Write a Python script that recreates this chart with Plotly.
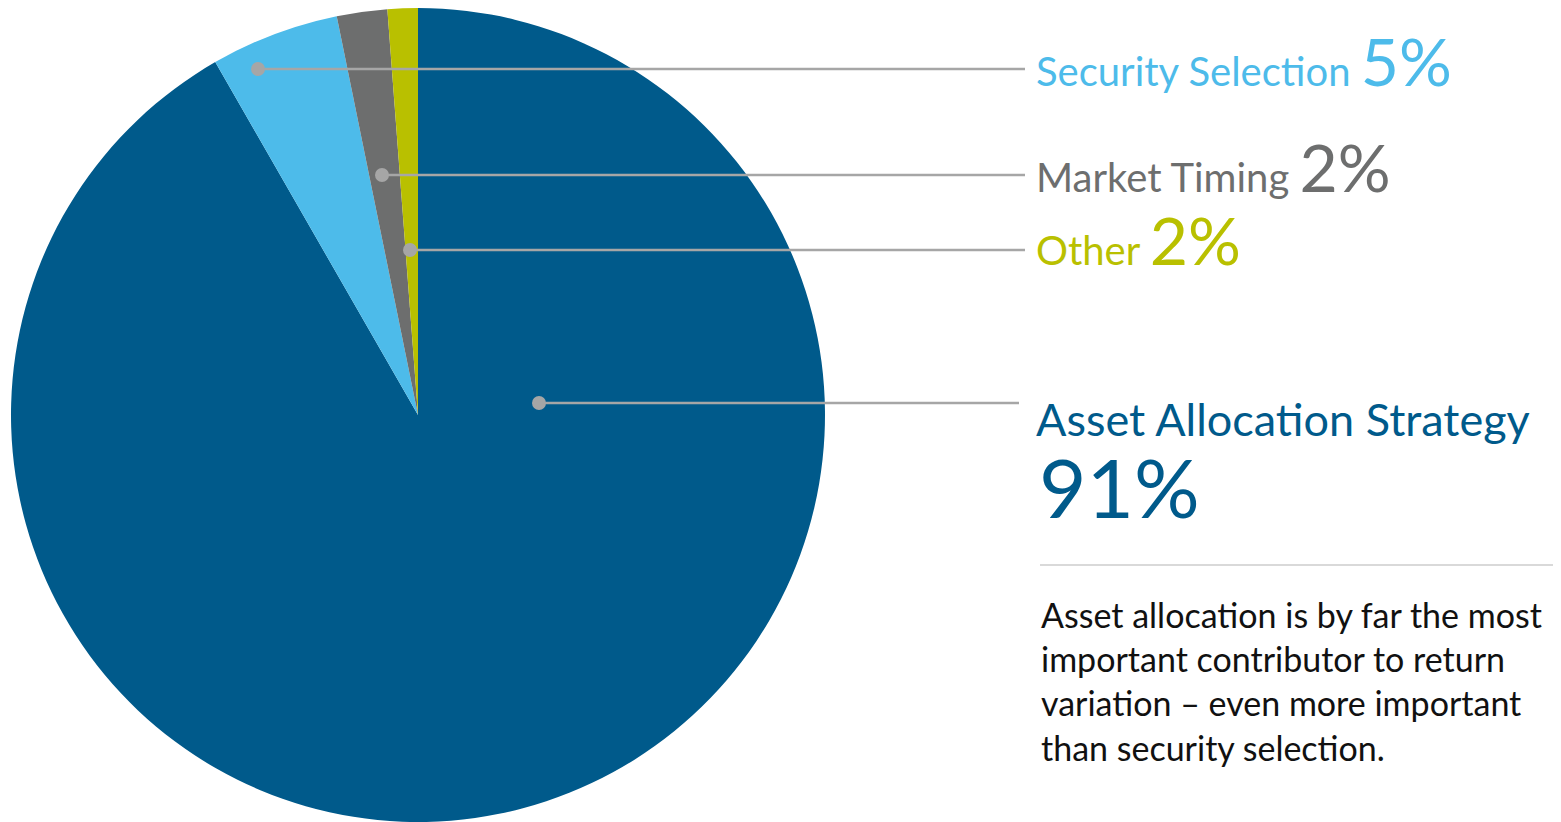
import plotly.graph_objects as go

W, H = 1561, 822
OFF = 8  # page body margin in the written HTML

# Data
categories = ["Asset Allocation Strategy", "Security Selection", "Market Timing", "Other"]
values = [91.7, 5.1, 2.0, 1.2]
pct_labels = ["91%", "5%", "2%", "2%"]
colors = ["#005A8B", "#4DBBEA", "#6D6E6E", "#B9C000"]

body_text = ("Asset allocation is by far the most<br>important contributor to return<br>"
             "variation – even more important<br>than security selection.")

FONT = "Lato, 'Open Sans', sans-serif"


def px(x):
    return (x - OFF) / W


def py(y):
    return 1 - (y - OFF) / H


fig = go.Figure()
fig.add_trace(go.Pie(
    labels=categories, values=values, sort=False, direction="clockwise", rotation=0,
    marker=dict(colors=colors, line=dict(width=0)),
    textinfo="none", hoverinfo="label+percent",
    domain=dict(x=[px(11), px(825)], y=[py(822), py(8)]),
    showlegend=False,
))

LINE = "#A6A6A6"
# leader lines: (dot x, dot y, line end x)
leaders = [(258, 69, 1025), (382, 175, 1025), (410, 250, 1025), (539, 403, 1019)]
shapes = []
for (dx, dy, ex) in leaders:
    shapes.append(dict(type="line", xref="paper", yref="paper",
                       x0=px(dx), x1=px(ex), y0=py(dy), y1=py(dy),
                       line=dict(color=LINE, width=2.5)))
    r = 7
    shapes.append(dict(type="circle", xref="paper", yref="paper",
                       x0=px(dx - r), x1=px(dx + r), y0=py(dy - r), y1=py(dy + r),
                       fillcolor=LINE, line=dict(width=0)))
# separator
shapes.append(dict(type="line", xref="paper", yref="paper",
                   x0=px(1040), x1=1, y0=py(565), y1=py(565),
                   line=dict(color="#D9D9D9", width=2)))

annotations = []
small = [(1, 61), (2, 166), (3, 239)]
for idx, yc in small:
    annotations.append(dict(
        xref="paper", yref="paper", x=px(1034), y=py(yc), xanchor="left", yanchor="middle",
        text=f"{categories[idx]} <span style='font-size:66px'>{pct_labels[idx]}</span>",
        showarrow=False, font=dict(family=FONT, size=40, color=colors[idx]),
    ))
annotations.append(dict(
    xref="paper", yref="paper", x=px(1034), y=py(419), xanchor="left", yanchor="middle",
    text=categories[0], showarrow=False,
    font=dict(family=FONT, size=45, color=colors[0]),
))
annotations.append(dict(
    xref="paper", yref="paper", x=px(1037), y=py(486), xanchor="left", yanchor="middle",
    text=pct_labels[0], showarrow=False,
    font=dict(family=FONT, size=82, color=colors[0]),
))
annotations.append(dict(
    xref="paper", yref="paper", x=px(1039), y=py(681), xanchor="left", yanchor="middle",
    text=body_text, showarrow=False, align="left",
    font=dict(family=FONT, size=34, color="#111111"),
))

fig.update_layout(
    width=W, height=H, margin=dict(l=0, r=0, t=0, b=0),
    paper_bgcolor="white", plot_bgcolor="white",
    shapes=shapes, annotations=annotations, showlegend=False,
)

fig.write_html("out.html")
